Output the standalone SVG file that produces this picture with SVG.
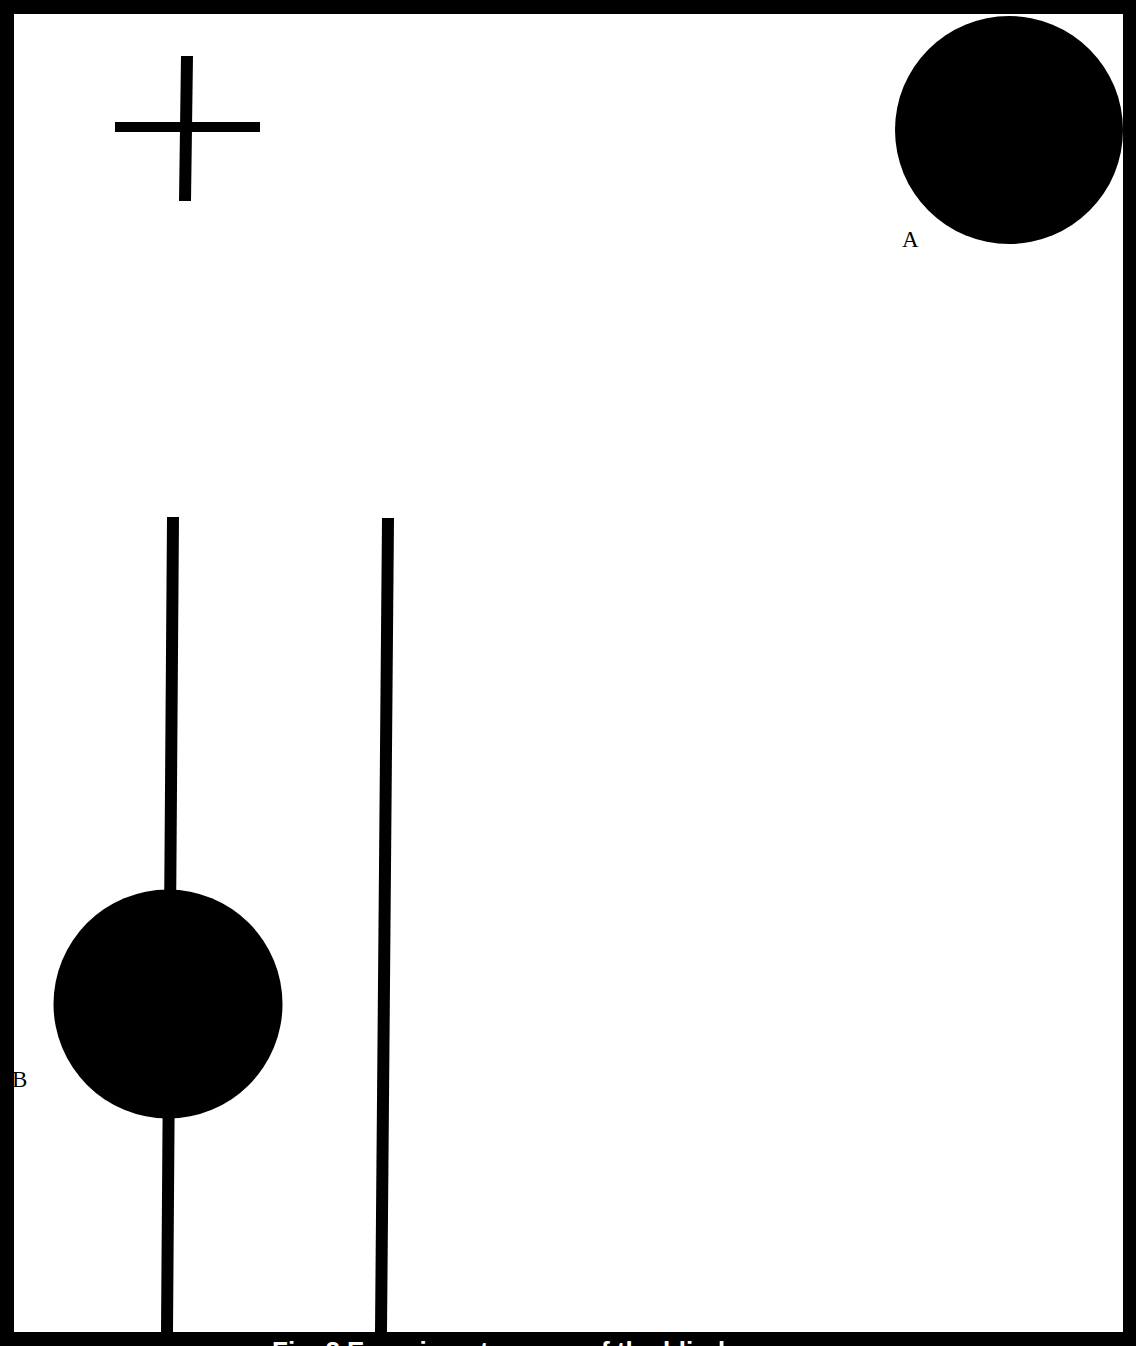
<svg xmlns="http://www.w3.org/2000/svg" width="1136" height="1346" viewBox="0 0 1136 1346">
<style>
.bar{stroke:#000;stroke-linecap:butt;fill:none}
.lbl{font-family:"Liberation Serif",serif;font-size:23px;fill:#000}
.cap{font-family:"Liberation Sans",Arial,sans-serif;font-size:26px;font-weight:bold;fill:#fff}
</style>
<rect x="0" y="0" width="1136" height="1346" fill="#fff"/>
<g id="connectors">
<line class="bar" x1="173" y1="517" x2="167" y2="1332" stroke-width="12"/>
<line class="bar" x1="388" y1="518" x2="381" y2="1332" stroke-width="12"/>
</g>
<g id="cross">
<line class="bar" x1="115" y1="127" x2="260" y2="127" stroke-width="10"/>
<line class="bar" x1="187" y1="56" x2="185" y2="201" stroke-width="12"/>
</g>
<g id="nodeA">
<circle cx="1009" cy="130" r="114" fill="#000"/>
<text class="lbl" x="902" y="247">A</text>
</g>
<g id="nodeB">
<circle cx="168" cy="1004" r="114.5" fill="#000"/>
<text class="lbl" x="12" y="1087">B</text>
</g>
<g id="frame">
<path d="M0 0H1136V1346H0Z M14 14V1332H1123V14Z" fill="#000" fill-rule="evenodd"/>
</g>
<text class="cap" x="272" y="1360">Fig. 2 Experiment</text>
<text class="cap" x="585" y="1360">of the blind</text>
</svg>
